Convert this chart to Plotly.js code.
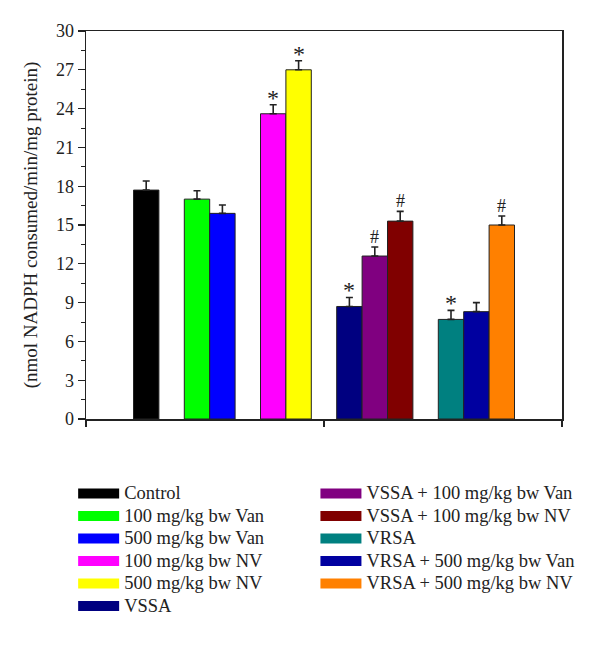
<!DOCTYPE html>
<html>
<head>
<meta charset="utf-8">
<script src="https://cdn.plot.ly/plotly-3.0.1.min.js"></script>
<style>
  body { margin: 0; background: #fff; }
  #myDiv { width: 600px; height: 646px; }
</style>
</head>
<body>
<div id="myDiv"></div>
<script>
// groups on the x axis, bars inside a group sit side by side
var categories = ['Control',
    '100 mg/kg bw Van', '500 mg/kg bw Van',
    '100 mg/kg bw NV', '500 mg/kg bw NV',
    'VSSA', 'VSSA + 100 mg/kg bw Van', 'VSSA + 100 mg/kg bw NV',
    'VRSA', 'VRSA + 500 mg/kg bw Van', 'VRSA + 500 mg/kg bw NV'];
var groupSizes = [1, 2, 2, 3, 3];
var values = [17.7, 17.0, 15.9, 23.6, 27.0, 8.7, 12.6, 15.3, 7.7, 8.3, 15.0];
var errors = [0.7, 0.65, 0.65, 0.7, 0.7, 0.7, 0.7, 0.75, 0.7, 0.7, 0.7];
var marks = ['', '', '', '*', '*', '*', '#', '#', '*', '', '#'];
var colors = ['#000000', '#00ff00', '#0000ff', '#ff00ff', '#ffff00',
    '#000080', '#800080', '#800000', '#008080', '#0000a0', '#ff8000'];

var serif = 'Liberation Serif, Times New Roman, serif';
var ink = '#222222';

// slot of each bar: one empty slot before every group
var slots = [];
var s = 1;
groupSizes.forEach(function (n) {
    s += 1;
    for (var k = 0; k < n; k++) { slots.push(s); s += 1; }
});

var xr = [-0.37, 18.37];

var data = [];
var annotations = [];
for (var i = 0; i < categories.length; i++) {
    data.push({
        type: 'bar',
        x: [slots[i]],
        y: [values[i]],
        width: 1,
        name: categories[i],
        showlegend: false,
        marker: {color: colors[i], line: {color: ink, width: 1}},
        error_y: {
            type: 'data', array: [errors[i]], arrayminus: [0], symmetric: false,
            color: ink, thickness: 1.6, width: 3.5
        },
        hoverinfo: 'x+y'
    });
    // legend entry drawn as a wide swatch
    data.push({
        type: 'scatter',
        mode: 'lines',
        x: [null],
        y: [null],
        name: '<span style="font-size:18.5px">' + categories[i] + '</span>',
        line: {color: colors[i], width: 10},
        legend: i < 6 ? 'legend' : 'legend2',
        showlegend: true,
        hoverinfo: 'skip'
    });
    if (marks[i]) {
        annotations.push({
            x: slots[i], y: values[i] + errors[i],
            xref: 'x', yref: 'y',
            text: marks[i],
            showarrow: false,
            yanchor: 'bottom',
            yshift: marks[i] === '*' ? -8 : -2,
            font: {family: serif, size: marks[i] === '*' ? 24 : 18, color: ink}
        });
    }
}

var legendBase = {
    xanchor: 'left', yanchor: 'top',
    bgcolor: 'rgba(0,0,0,0)',
    font: {family: serif, size: 15, color: ink},
    itemwidth: 41,
    traceorder: 'normal',
    itemclick: false, itemdoubleclick: false
};

var layout = {
    width: 600,
    height: 646,
    margin: {l: 86, r: 38, t: 31, b: 227},
    paper_bgcolor: '#ffffff',
    plot_bgcolor: '#ffffff',
    showlegend: true,
    bargap: 0,
    xaxis: {
        range: xr,
        showgrid: false,
        zeroline: false,
        showline: true,
        linecolor: ink,
        linewidth: 1.5,
        mirror: true,
        ticks: 'outside',
        ticklen: 6,
        tickwidth: 1.5,
        tickcolor: ink,
        tickvals: [xr[0], (xr[0] + xr[1]) / 2, xr[1]],
        showticklabels: false
    },
    yaxis: {
        range: [0, 30],
        dtick: 3,
        tick0: 0,
        showgrid: false,
        zeroline: false,
        showline: true,
        linecolor: ink,
        linewidth: 1.5,
        mirror: true,
        ticks: 'outside',
        ticklen: 7,
        tickwidth: 1.3,
        tickcolor: ink,
        minor: {dtick: 1.5, ticks: 'outside', ticklen: 4, tickwidth: 1, tickcolor: ink},
        tickfont: {family: serif, size: 18, color: ink},
        title: {
            text: '(nmol NADPH consumed/min/mg protein)',
            font: {family: serif, size: 19, color: ink},
            standoff: 13
        }
    },
    legend: Object.assign({x: -0.027, y: -0.15}, legendBase),
    legend2: Object.assign({x: 0.482, y: -0.15}, legendBase),
    annotations: annotations
};

Plotly.newPlot('myDiv', data, layout, {displayModeBar: false, staticPlot: true});
</script>
</body>
</html>
